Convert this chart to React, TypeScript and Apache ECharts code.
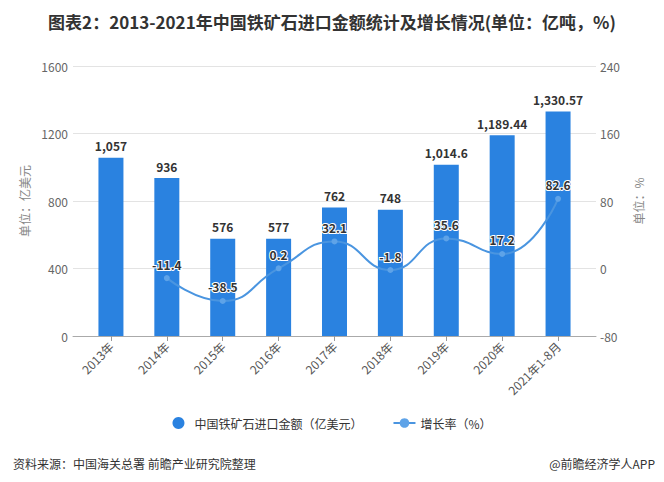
import React, { useEffect, useRef } from "react";
import * as echarts from "echarts";

const categories = ["2013年", "2014年", "2015年", "2016年", "2017年", "2018年", "2019年", "2020年", "2021年1-8月"];
const importValues = [1057, 936, 576, 577, 762, 748, 1014.6, 1189.44, 1330.57];
const growthRates = [null, -11.4, -38.5, 0.2, 32.1, -1.8, 35.6, 17.2, 82.6];
const leftTicks = { min: 0, max: 1600, interval: 400 };
const rightTicks = { min: -80, max: 240, interval: 80 };

const FONT = "'Noto Sans CJK SC', 'Noto Sans', sans-serif";

export default function App() {
  const ref = useRef<HTMLDivElement>(null);
  useEffect(() => {
    if (!ref.current) return;
    const chart = echarts.init(ref.current, undefined, { renderer: "svg" });
    chart.setOption({
      animation: false,
      backgroundColor: "#fff",
      textStyle: { fontFamily: FONT },
      title: [
        {
          text: "图表2：2013-2021年中国铁矿石进口金额统计及增长情况(单位：亿吨，%)",
          left: "center",
          top: 8,
          textStyle: { fontSize: 17, fontWeight: "bold", color: "#333", fontFamily: FONT },
        },
        {
          text: "资料来源：中国海关总署 前瞻产业研究院整理",
          left: 8,
          top: 452,
          textStyle: { fontSize: 12, fontWeight: "normal", color: "#333", fontFamily: FONT },
        },
        {
          text: "@前瞻经济学人APP",
          right: 4,
          top: 452,
          textStyle: { fontSize: 12, fontWeight: "normal", color: "#333", fontFamily: FONT },
        },
      ],
      legend: {
        bottom: 48,
        left: "center",
        itemGap: 30,
        textStyle: { fontSize: 12, color: "#333", fontFamily: FONT },
        data: [
          { name: "中国铁矿石进口金额（亿美元）", icon: "circle" },
          { name: "增长率（%）" },
        ],
        itemWidth: 22,
        itemHeight: 12,
      },
      grid: [
        { left: 83, right: 78, top: 66, bottom: 146 },
        { left: 73, right: 68, top: 66, bottom: 146 },
      ],
      xAxis: [
        {
          type: "category",
          gridIndex: 0,
          data: categories,
          axisLine: { show: false },
          axisTick: { show: true, alignWithLabel: true, length: 5, lineStyle: { color: "#999" } },
          axisLabel: { rotate: 45, color: "#555", fontSize: 12, margin: 8, interval: 0 },
        },
        {
          type: "category",
          gridIndex: 1,
          data: categories,
          axisLine: { show: true, lineStyle: { color: "#aaa" } },
          axisTick: { show: false },
          axisLabel: { show: false },
        },
      ],
      yAxis: [
        {
          type: "value",
          gridIndex: 0,
          ...leftTicks,
          name: "单位：亿美元",
          nameLocation: "middle",
          nameGap: 46,
          nameTextStyle: { color: "#888", fontSize: 12 },
          splitLine: { show: false },
          axisLine: { show: false },
          axisTick: { show: false },
          axisLabel: { color: "#666", fontSize: 12, margin: 15, formatter: (v: number) => String(v) },
        },
        {
          type: "value",
          gridIndex: 0,
          position: "right",
          ...rightTicks,
          name: "单位：%",
          nameLocation: "middle",
          nameRotate: 90,
          nameGap: 46,
          nameTextStyle: { color: "#888", fontSize: 12 },
          splitLine: { show: false },
          axisLine: { show: false },
          axisTick: { show: false },
          axisLabel: { color: "#666", fontSize: 12, margin: 14 },
        },
        {
          type: "value",
          gridIndex: 1,
          ...leftTicks,
          splitLine: { show: true, lineStyle: { color: "#e3e3e3" } },
          axisLine: { show: false },
          axisTick: { show: false },
          axisLabel: { show: false },
        },
      ],
      series: [
        {
          name: "中国铁矿石进口金额（亿美元）",
          type: "bar",
          xAxisIndex: 0,
          yAxisIndex: 0,
          data: importValues,
          barWidth: 25,
          itemStyle: { color: "#2a82e0" },
          label: {
            show: true,
            position: "top",
            distance: 6,
            color: "#333",
            fontSize: 12,
            fontWeight: "bold",
            formatter: (p: any) => Number(p.value).toLocaleString("en-US", { maximumFractionDigits: 2 }),
          },
        },
        {
          name: "增长率（%）",
          type: "line",
          xAxisIndex: 0,
          yAxisIndex: 1,
          data: growthRates,
          smooth: true,
          symbol: "circle",
          symbolSize: 6,
          lineStyle: { color: "#4a95e0", width: 2 },
          itemStyle: { color: "#5ea3e8" },
          label: {
            show: true,
            position: "top",
            distance: 5,
            color: "#333",
            fontSize: 12,
            fontWeight: "bold",
            textBorderColor: "#fff",
            textBorderWidth: 2,
          },
        },
      ],
    });
    return () => chart.dispose();
  }, []);
  return <div ref={ref} style={{ position: "fixed", left: 0, top: 0, width: 664, height: 482 }} />;
}
